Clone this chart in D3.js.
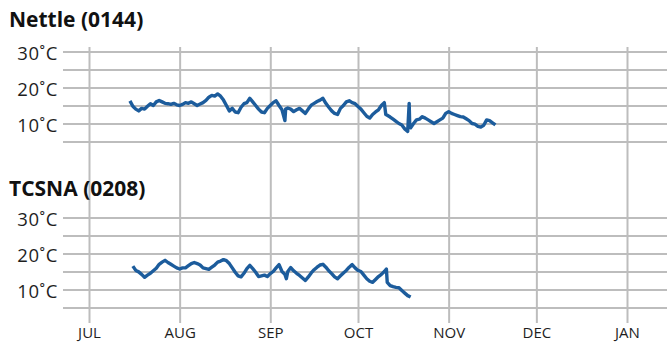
<!DOCTYPE html>
<html><head><meta charset="utf-8">
<script src="https://cdn.jsdelivr.net/npm/d3@7/dist/d3.min.js"></script>
<style>
html,body{margin:0;padding:0;background:#fff;}
svg{display:block;font-family:"Open Sans","Noto Sans",sans-serif;}
</style></head>
<body><svg id="c" width="667" height="346"></svg>
<script>
// ---- data ----
const monthLabels = ["JUL","AUG","SEP","OCT","NOV","DEC","JAN"];
const monthDates  = ["2014-07-01","2014-08-01","2014-09-01","2014-10-01","2014-11-01","2014-12-01","2015-01-01"];
const tempTicks   = [5,10,15,20,25,30];
const tempLabels  = [10,20,30];
const panelTitles = ["Nettle (0144)","TCSNA (0208)"];

const nettleDates = ["07-15","07-16","07-17","07-18","07-19","07-20","07-21","07-22","07-23","07-24","07-25","07-26","07-27","07-28","07-29","07-30","07-31",
"08-01","08-02","08-03","08-04","08-05","08-06","08-07","08-08","08-09","08-10","08-11","08-12","08-13","08-14","08-15","08-16","08-17","08-18","08-19","08-20","08-21","08-22","08-23","08-24","08-25","08-26","08-27","08-28","08-29","08-30","08-31",
"09-01","09-02","09-03","09-04","09-05","09-06","09-06 06","09-07","09-08","09-09","09-10","09-11","09-12","09-13","09-14","09-15","09-16","09-17","09-18","09-19","09-20","09-21","09-22","09-23","09-24","09-25","09-26","09-27","09-28","09-29","09-30",
"10-01","10-02","10-03","10-04","10-05","10-06","10-07","10-08","10-09","10-10","10-10 12","10-11","10-12","10-13","10-14","10-15","10-16","10-17","10-18","10-18 12","10-18 17","10-19","10-20","10-21","10-22","10-23","10-24","10-25","10-26","10-27","10-28","10-29","10-30","10-31",
"11-01","11-02","11-03","11-04","11-05","11-06","11-07","11-08","11-09","11-10","11-11","11-12","11-13","11-14","11-15","11-16","11-17"];
const nettleTemps = [16.3,14.8,14.0,13.5,14.2,14.0,14.8,15.5,15.0,16.0,16.4,16.0,15.6,15.5,15.3,15.6,15.2,
15.0,15.3,15.8,15.6,16.0,15.5,15.0,15.4,15.8,16.4,17.3,17.8,17.6,18.2,17.6,16.5,15.0,13.5,14.2,13.2,13.0,14.5,15.5,15.8,17.0,16.0,15.0,14.0,13.2,13.0,14.2,
15.0,15.8,16.3,15.0,13.8,10.8,14.0,14.3,14.0,13.3,13.8,14.2,13.5,12.8,14.0,15.1,15.6,16.1,16.5,17.0,15.6,14.5,13.5,12.8,12.5,14.2,15.0,16.0,16.3,15.8,15.5,
14.7,14.0,13.0,12.0,11.5,12.5,13.2,13.8,15.0,15.8,12.5,12.3,11.8,11.2,10.6,10.0,9.6,8.5,7.8,15.6,9.0,8.8,10.0,11.0,11.2,11.9,11.5,11.0,10.5,10.0,10.5,11.0,11.5,12.8,
13.3,12.8,12.5,12.2,11.9,11.8,11.3,10.8,10.0,9.8,9.2,9.0,9.5,11.0,10.8,10.2,9.6];

const tcsnaDates = ["07-16","07-17","07-18","07-19","07-20","07-21","07-22","07-23","07-24","07-25","07-26","07-27","07-28","07-29","07-30","07-31",
"08-01","08-02","08-03","08-04","08-05","08-06","08-07","08-08","08-09","08-10","08-11","08-12","08-13","08-14","08-15","08-16","08-17","08-18","08-19","08-20","08-21","08-22","08-23","08-24","08-25","08-26","08-27","08-28","08-29","08-30","08-31",
"09-01","09-02","09-03","09-04","09-05","09-06","09-06 12","09-07","09-08","09-09","09-10","09-11","09-12","09-13","09-14","09-15","09-16","09-17","09-18","09-19","09-20","09-21","09-22","09-23","09-24","09-25","09-26","09-27","09-28","09-29","09-30",
"10-01","10-02","10-03","10-04","10-05","10-06","10-07","10-08","10-09","10-10","10-10 17","10-11","10-12","10-13","10-14","10-15","10-16","10-17","10-18","10-19"];
const tcsnaTemps = [16.5,15.3,14.9,14.2,13.4,14.0,14.5,15.2,15.9,17.0,17.6,18.1,17.5,17.0,16.5,16.0,
15.7,16.0,16.0,16.6,17.2,17.5,17.2,16.8,16.0,15.8,15.6,16.2,16.8,17.6,17.9,18.3,18.0,17.2,16.0,14.8,13.8,13.5,14.5,15.8,16.7,15.8,14.8,13.6,13.8,14.0,13.6,
14.4,15.0,16.0,16.9,15.0,14.2,13.0,15.0,16.1,15.2,14.5,13.9,13.2,12.5,13.5,14.6,15.5,16.2,16.8,17.0,16.2,15.2,14.4,13.5,13.0,13.8,14.6,15.3,16.2,16.9,16.0,
15.3,15.0,14.0,13.0,12.3,12.0,12.8,13.6,14.2,15.0,15.7,12.0,11.1,10.8,10.6,10.5,9.7,9.0,8.3,7.9];

// ---- drawing ----
const svg = d3.select("#c");
const parseD = d3.timeParse("%Y-%m-%d");
const parseT = d3.timeParse("%Y-%m-%d %H");
const toDate = s => s.length > 5 ? parseT("2014-" + s) : parseD("2014-" + s);

const x = d3.scaleTime().domain([parseD(monthDates[0]), parseD(monthDates[6])]).range([89, 627]);
const gridLeft = 63, gridRight = 667;
const lineColor = "#1c5c9c", gridColor = "#bdbdbd", textColor = "#1e1e1e";

// vertical month gridlines + labels
const xAxis = d3.axisBottom(x)
  .tickValues(monthDates.map(parseD))
  .tickFormat((d, i) => monthLabels[i])
  .tickSize(-(323 - 47))
  .tickPadding(4);
const gx = svg.append("g").attr("transform", "translate(0,323)").call(xAxis);
gx.select(".domain").remove();
gx.selectAll(".tick line").attr("stroke", gridColor).attr("stroke-width", 2);
gx.selectAll(".tick text").attr("fill", textColor).style("font-size", "15px").style("font-family", "'Open Sans',sans-serif");

const panels = [
  {title: panelTitles[0], top: 51.5, titleY: 27, dates: nettleDates, temps: nettleTemps},
  {title: panelTitles[1], top: 217.5, titleY: 196, dates: tcsnaDates, temps: tcsnaTemps}
];

panels.forEach(p => {
  const y = d3.scaleLinear().domain([5, 30]).range([p.top + 90, p.top]);
  const yAxis = d3.axisLeft(y)
    .tickValues(tempTicks)
    .tickFormat(d => tempLabels.includes(d) ? d + "˚C" : "")
    .tickSize(-(gridRight - gridLeft))
    .tickPadding(5);
  const gy = svg.append("g").attr("transform", `translate(${gridLeft},0)`).call(yAxis);
  gy.select(".domain").remove();
  gy.selectAll(".tick line").attr("stroke", gridColor).attr("stroke-width", 2);
  gy.selectAll(".tick text").attr("fill", textColor).attr("dy", "0.42em")
    .style("font-size", "18.5px").style("letter-spacing", "0.6px").style("font-family", "'Open Sans',sans-serif");

  svg.append("text").attr("x", 9).attr("y", p.titleY).text(p.title)
    .attr("fill", "#111").style("font-size", "21px").style("font-weight", "bold");

  const data = p.dates.map((d, i) => ({date: toDate(d), t: p.temps[i]}));
  svg.append("path").datum(data)
    .attr("fill", "none").attr("stroke", lineColor).attr("stroke-width", 3.4)
    .attr("stroke-linejoin", "round")
    .attr("d", d3.line().x(d => x(d.date)).y(d => y(d.t)));
});
</script></body></html>
